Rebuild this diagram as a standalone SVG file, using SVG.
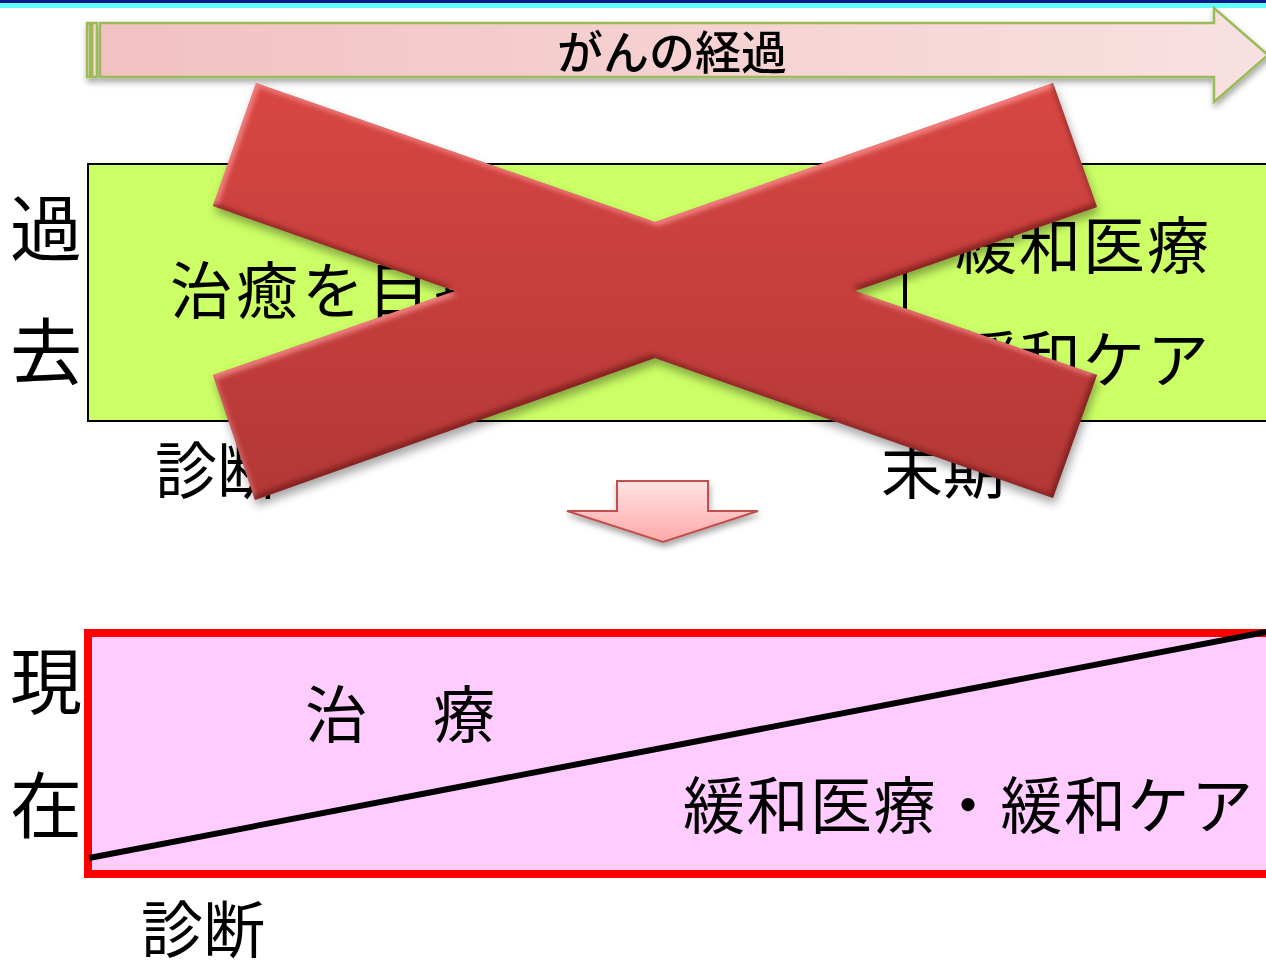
<svg xmlns="http://www.w3.org/2000/svg" width="1266" height="970" viewBox="0 0 1266 970">
<defs>
<style>
text{font-family:"Noto Sans CJK JP","Noto Sans CJK SC",sans-serif;fill:#000}
.side{font-size:72px}
.lbl{font-size:62px}
.arrowstroke{stroke:#9BBB59;stroke-width:2.5}
</style>
<linearGradient id="tlg" x1="0" y1="0" x2="1" y2="0"><stop offset="0" stop-color="#F2C1C1"/><stop offset="1" stop-color="#F9E1E1"/></linearGradient>
<linearGradient id="xg" gradientUnits="userSpaceOnUse" x1="0" y1="83" x2="0" y2="500"><stop offset="0" stop-color="#D84642"/><stop offset="1" stop-color="#B23836"/></linearGradient>
<linearGradient id="dag" x1="0" y1="0" x2="0" y2="1"><stop offset="0" stop-color="#FFE3E3"/><stop offset="1" stop-color="#FFA8A8"/></linearGradient>
<filter id="sh" x="-5%" y="-20%" width="110%" height="150%">
<feDropShadow dx="1" dy="4" stdDeviation="3" flood-color="#000" flood-opacity="0.35"/>
</filter>
<filter id="xf" x="-5%" y="-10%" width="115%" height="125%" color-interpolation-filters="sRGB">
<feGaussianBlur in="SourceAlpha" stdDeviation="2.5" result="b"/>
<feOffset in="b" dx="3" dy="4" result="b1"/>
<feComposite in="SourceAlpha" in2="b1" operator="out" result="h"/>
<feFlood flood-color="#FF9C9C" flood-opacity="0.7"/>
<feComposite in2="h" operator="in" result="hc"/>
<feOffset in="b" dx="-3" dy="-4" result="b2"/>
<feComposite in="SourceAlpha" in2="b2" operator="out" result="s"/>
<feFlood flood-color="#6E1A18" flood-opacity="0.7"/>
<feComposite in2="s" operator="in" result="sc"/>
<feGaussianBlur in="SourceAlpha" stdDeviation="5" result="db"/>
<feOffset in="db" dx="2" dy="6" result="do"/>
<feFlood flood-color="#000" flood-opacity="0.35"/>
<feComposite in2="do" operator="in" result="ds"/>
<feMerge><feMergeNode in="ds"/><feMergeNode in="SourceGraphic"/><feMergeNode in="hc"/><feMergeNode in="sc"/></feMerge>
</filter>
</defs>
<rect width="1266" height="970" fill="#fff"/>
<g id="top-band">
<rect x="0" y="0" width="1266" height="3" fill="#0B1A8A"/>
<rect x="0" y="3" width="1266" height="5" fill="#66FFFF"/>
</g>
<g id="timeline-arrow" filter="url(#sh)">
<rect x="87" y="23" width="3" height="54" fill="url(#tlg)" class="arrowstroke"/>
<rect x="92" y="23" width="5" height="54" fill="url(#tlg)" class="arrowstroke"/>
<path d="M100,23 H1214 V8 L1268,55 L1214,102 V77 H100 Z" fill="url(#tlg)" class="arrowstroke"/>
<text x="672" y="69" font-size="46" font-weight="500" text-anchor="middle">がんの経過</text>
</g>
<g id="label-past">
<text class="side" x="10" y="255">過</text>
<text class="side" x="10" y="378">去</text>
</g>
<g id="past-box">
<rect x="88" y="164" width="1180" height="257" fill="#CCFF66" stroke="#000" stroke-width="2"/>
<line x1="905" y1="164" x2="905" y2="421" stroke="#000" stroke-width="4"/>
<text class="lbl" x="170" y="314" font-size="60" letter-spacing="4">治癒を目指した治療</text>
<text class="lbl" x="955" y="269" letter-spacing="2">緩和医療</text>
<text class="lbl" x="955" y="383" letter-spacing="2">緩和ケア</text>
</g>
<g id="past-axis">
<text class="lbl" x="155" y="494">診断</text>
<text class="lbl" x="881" y="494">末期</text>
</g>
<g id="x-mark">
<polygon points="256,83 655,222 1053,83 1097,207 855,291 1097,375 1053,498 655,358 255,500 213,375 455,291 213,206" fill="url(#xg)" filter="url(#xf)"/>
</g>
<g id="connectors">
<path d="M617,481 H708 V511 H758 L663,542 L567,511 H617 Z" fill="url(#dag)" stroke="#C0504D" stroke-width="2" filter="url(#sh)"/>
</g>
<g id="label-present">
<text class="side" x="10" y="708">現</text>
<text class="side" x="10" y="832">在</text>
</g>
<g id="present-box">
<rect x="88" y="633" width="1182" height="241" fill="#FFCCFF" stroke="#FF0000" stroke-width="8"/>
<line x1="89" y1="858" x2="1266" y2="632" stroke="#000" stroke-width="6"/>
<text class="lbl" x="305" y="738" letter-spacing="2">治　療</text>
<text class="lbl" x="683" y="829" font-size="63" letter-spacing="1.5">緩和医療・緩和ケア</text>
</g>
<g id="present-axis">
<text class="lbl" x="141" y="953" font-size="60">診断</text>
</g>
</svg>
